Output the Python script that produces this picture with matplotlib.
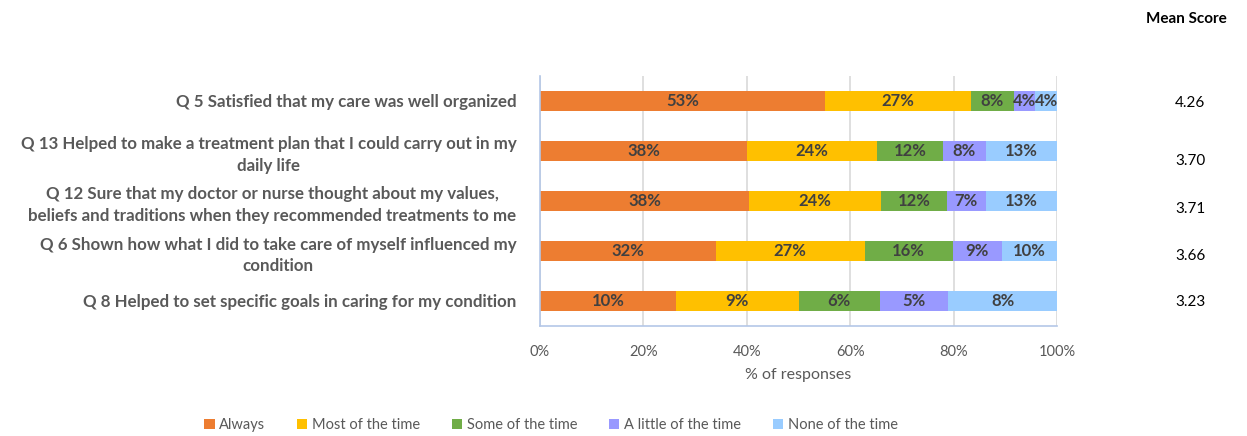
import matplotlib
matplotlib.use("Agg")
import matplotlib.pyplot as plt
from matplotlib.patches import Patch
import numpy as np

plt.rcParams['font.family'] = ['Lato', 'DejaVu Sans']

questions = [
    "Q 5 Satisfied that my care was well organized",
    "Q 13 Helped to make a treatment plan that I could carry out in my\ndaily life",
    "Q 12 Sure that my doctor or nurse thought about my values,\nbeliefs and traditions when they recommended treatments to me",
    "Q 6 Shown how what I did to take care of myself influenced my\ncondition",
    "Q 8 Helped to set specific goals in caring for my condition",
]
categories = ["Always", "Most of the time", "Some of the time",
              "A little of the time", "None of the time"]
always = [53, 38, 38, 32, 10]
most = [27, 24, 24, 27, 9]
some = [8, 12, 12, 16, 6]
little = [4, 8, 7, 9, 5]
none = [4, 13, 13, 10, 8]
mean_scores = ["4.26", "3.70", "3.71", "3.66", "3.23"]
x_ticks = [0, 20, 40, 60, 80, 100]

colors = ["#ED7D31", "#FFC000", "#70AD47", "#9999FF", "#99CCFF"]
series = np.array([always, most, some, little, none], dtype=float)
shares = series / series.sum(axis=0) * 100

W, H = 1247, 436
fig = plt.figure(figsize=(W / 100, H / 100), dpi=100)
ax = fig.add_axes([540 / W, 1 - 326 / H, 517 / W, 250 / H])

y = np.arange(len(questions))
left = np.zeros(len(questions))
for vals, raw, c, name in zip(shares, series, colors, categories):
    ax.barh(y, vals, left=left, height=0.4, color=c, label=name, zorder=2)
    for yi, l, v, r in zip(y, left, vals, raw):
        ax.text(l + v / 2, yi, f"{int(r)}%", ha="center", va="center",
                fontsize=12, fontweight="bold", color="#404040", zorder=3)
    left += vals

ax.set_xlim(0, 100)
ax.set_ylim(len(questions) - 0.5, -0.5)
ax.set_xticks(x_ticks)
ax.set_xticklabels([f"{t}%" for t in x_ticks], fontsize=10.5, color="#595959")
ax.set_yticks(y)
ax.set_yticklabels(questions, fontsize=12.2, fontweight="bold", color="#595959",
                   multialignment="center", linespacing=1.45)
ax.tick_params(axis="both", length=0)
ax.tick_params(axis="y", pad=17)
ax.tick_params(axis="x", pad=14)
ax.xaxis.grid(True, color="#D9D9D9", linewidth=1.2, zorder=0)
ax.set_axisbelow(True)
for s in ["top", "right"]:
    ax.spines[s].set_visible(False)
for s in ["left", "bottom"]:
    ax.spines[s].set_color("#B4C7E7")
    ax.spines[s].set_linewidth(1.2)
ax.set_xlabel("% of responses", fontsize=11.5, color="#595959", labelpad=6)

# Mean score column on the right
fig.text(1186 / W, 1 - 19 / H, "Mean Score", ha="center", va="center",
         fontsize=11, fontweight="bold", color="#000000")
for py, m in zip([103, 161, 209, 256, 302], mean_scores):
    fig.text(1190 / W, 1 - py / H, m, ha="center", va="center",
             fontsize=11, color="#000000")

handles = [Patch(facecolor=c, edgecolor="none") for c in colors]
fig.legend(handles, categories, loc="center", bbox_to_anchor=(551 / W, 1 - 425 / H),
           ncol=5, frameon=False, fontsize=10.5, handlelength=0.7, handleheight=0.7,
           handletextpad=0.3, columnspacing=2.2, labelcolor="#595959")

fig.savefig("out.png", dpi=100)
